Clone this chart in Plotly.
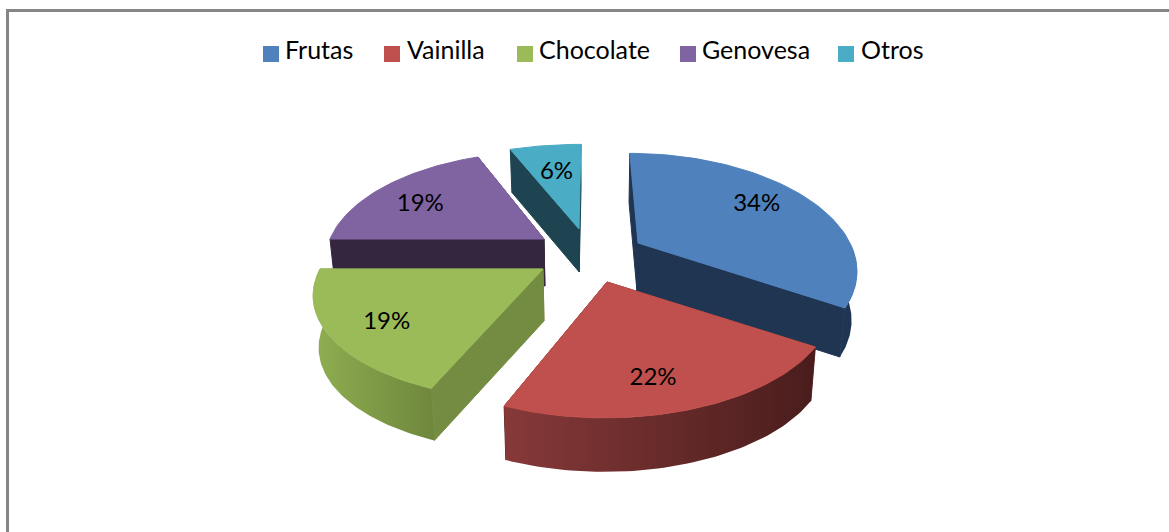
import math
import plotly.graph_objects as go

categories = ["Frutas", "Vainilla", "Chocolate", "Genovesa", "Otros"]
values = [34, 22, 19, 19, 6]
top_colors = ["#4f81bd", "#c0504d", "#9bbb59", "#8064a2", "#4bacc6"]
face_colors = ["#1f3552", "#5e2a28", "#748c42", "#35263f", "#1d4450"]
wall_left = ["#1f3552", "#873939", "#8fae50", "#35263f", "#1d4450"]
wall_right = ["#1f3552", "#491d1c", "#6f873d", "#35263f", "#1d4450"]

# projection of each exploded slice
apex_x = [638, 607, 543, 544, 579]
apex_y = [243, 282, 269, 239, 229]
radius = [212, 221, 223, 214, 228]
radius_y = [108, 108, 104, 105, 102]
lean_x = [590, 617, 587, 544, 590]
depth = [49, 54, 52, 47, 43]
draw_order = [3, 4, 0, 1, 2]
K, VX = 0.205, 590
label_r = [0.72, 0.68, 0.74, 0.72, 0.72]
label_dx = [-3, -6, -3, -6, 3]
label_dy = [-3, 16, 7, 5, 7]

# hand-placed legend row
legend_marker_x = [271, 392, 525, 688, 846]
legend_text_x = [285, 407, 539, 702, 861]
legend_y = 54


def project(i, theta, r=1.0):
    c, sn = math.cos(theta), math.sin(theta)
    s = 1 / (1 + K * r * c)
    x = apex_x[i] + radius[i] * r * sn * s + (apex_x[i] - lean_x[i]) * (s - 1)
    y = apex_y[i] - radius_y[i] * r * c * s
    return x, y


def drop(i, p):
    return VX + (p[0] - VX) * 0.98, p[1] + depth[i]


def poly(points, color=None, grad=None):
    xs = [p[0] for p in points] + [points[0][0]]
    ys = [p[1] for p in points] + [points[0][1]]
    kw = dict(x=xs, y=ys, mode="lines", fill="toself", showlegend=False, hoverinfo="skip")
    if grad:
        kw["line"] = dict(width=0)
        kw["fillgradient"] = dict(type="horizontal",
                                  colorscale=[[0, grad[0]], [1, grad[1]]])
        kw["fillcolor"] = grad[0]
    else:
        kw["line"] = dict(width=1, color=color)
        kw["fillcolor"] = color
    return go.Scatter(**kw)


total = sum(values)
starts, ends = [], []
acc = 0
for v in values:
    starts.append(2 * math.pi * acc / total)
    acc += v
    ends.append(2 * math.pi * acc / total)

fig = go.Figure()
lab_x, lab_y, lab_t = [], [], []
for i in draw_order:
    t0, t1 = starts[i], ends[i]
    n = 60
    arc = [project(i, t0 + (t1 - t0) * k / n) for k in range(n + 1)]
    apex = (apex_x[i], apex_y[i])
    for edge in (arc[0], arc[-1]):
        fig.add_trace(poly([apex, edge, drop(i, edge), drop(i, apex)], face_colors[i]))
    a, b = max(t0, math.pi / 2), min(t1, 3 * math.pi / 2)
    if b > a:
        w = [project(i, a + (b - a) * k / n) for k in range(n + 1)]
        w_low = [drop(i, p) for p in reversed(w)]
        fig.add_trace(poly(w + w_low, grad=(wall_left[i], wall_right[i])))
    fig.add_trace(poly([apex] + arc, top_colors[i]))
    lx, ly = project(i, (t0 + t1) / 2, label_r[i])
    lab_x.append(lx + label_dx[i])
    lab_y.append(ly + label_dy[i])
    lab_t.append(f"{values[i]}%")

fig.add_trace(go.Scatter(x=lab_x, y=lab_y, text=lab_t, mode="text",
                         textfont=dict(family="Lato", size=24, color="#000000"),
                         showlegend=False, hoverinfo="skip"))

fig.add_trace(go.Scatter(x=legend_marker_x, y=[legend_y] * 5, mode="markers",
                         marker=dict(symbol="square", size=16, color=top_colors),
                         showlegend=False, hoverinfo="skip"))
fig.add_trace(go.Scatter(x=legend_text_x, y=[legend_y - 1] * 5, text=categories, mode="text",
                         textposition="middle right",
                         textfont=dict(family="Lato", size=25, color="#000000"),
                         showlegend=False, hoverinfo="skip"))

fig.update_layout(
    width=1169, height=532, margin=dict(l=0, r=0, t=0, b=0),
    paper_bgcolor="white", plot_bgcolor="white", showlegend=False,
    xaxis=dict(range=[0, 1169], visible=False),
    yaxis=dict(range=[532, 0], visible=False),
    shapes=[
        dict(type="line", xref="x", yref="y", x0=7.5, x1=7.5, y0=9, y1=532,
             line=dict(color="#868686", width=3)),
        dict(type="line", xref="x", yref="y", x0=6, x1=1169, y0=10.5, y1=10.5,
             line=dict(color="#868686", width=3)),
    ],
)
fig.write_html("out.html", config={"displayModeBar": False},
               post_script="document.body.style.margin='0';")
